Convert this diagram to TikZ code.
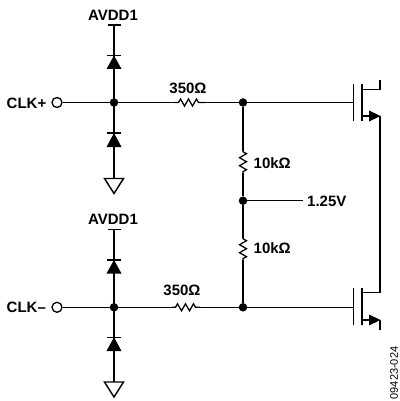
\documentclass[tikz,border=0pt]{standalone}
\usepackage{fontspec}
\setmainfont{Liberation Sans}
\newcommand{\drawdiode}[3]{% name, bar y, base y
  \coordinate (#1bar) at (114,#2);
  \coordinate (#1base) at (114,#3);
  \draw[wire] (107,#2) -- (121,#2);
  \fill (106.5,#3) -- (121.5,#3) -- (114,#2) -- cycle;
}
\newcommand{\drawground}[2]{% name, top y
  \coordinate (#1) at (114,#2);
  \draw[wire,line join=miter] (104.5,#2) -- (123.5,#2) -- (114,#2+15) -- cycle;
}
\newcommand{\hres}[3]{% from x, to x, y
  \draw[reswire] (#1,#3)
    -- ++(3.5,0) -- ++(2,-3.5) -- ++(4,7) -- ++(4,-7) -- ++(4,7) -- ++(4,-7) -- ++(2,3.5) -- (#2,#3);
}
\newcommand{\vres}[3]{% x, from y, to y
  \draw[reswire] (#1,#2)
    -- ++(0,1) -- ++(3.5,2) -- ++(-7,4) -- ++(7,4) -- ++(-7,4) -- ++(7,4) -- ++(-3.5,2) -- (#1,#3);
}
\newcommand{\drawfet}[2]{% gate y, name
  \draw[wire] (353.5,#1-18.5) -- (353.5,#1+18.5);
  \draw[wire] (362,#1-18.5) -- (362,#1+18.5);
}
\tikzset{
  x=1pt,y=-1pt,
  wire/.style={line width=1.45pt,line cap=butt},
  reswire/.style={line width=1.25pt,line cap=butt,line join=miter},
  dot/.style={circle,fill=black,inner sep=0pt,minimum size=8.5pt},
  term/.style={circle,draw=black,fill=white,line width=1.3pt,inner sep=0pt,minimum size=10pt},
  lab/.style={font=\fontsize{15}{16}\selectfont\bfseries,inner sep=0pt,text=black},
}
\begin{document}
\begin{tikzpicture}
\useasboundingbox (0,0) rectangle (399,401);
% top input
\coordinate (vddA) at (114,25);
\coordinate (gndA) at (114,178.5);
\node[dot] (jA) at (114,102.5) {};
\node[term] (clkp) at (57,102.5) {};
\node[dot] (jB) at (243,102.5) {};
\node[dot] (mid) at (243,200.7) {};
\coordinate (gateA) at (353.5,102.5);
% bottom input
\coordinate (vddB) at (114,229.3);
\coordinate (gndB) at (114,382);
\node[dot] (jC) at (114,307.3) {};
\node[term] (clkm) at (57,307.3) {};
\node[dot] (jD) at (243,307.3) {};
\coordinate (gateB) at (353.5,307.3);
% wires
\draw[wire] (108,25) -- (120.5,25);
\draw[wire] (108,229.3) -- (120.5,229.3);
\draw[wire] (vddA) -- (gndA);
\draw[wire] (vddB) -- (gndB);
\draw[wire] (clkp) -- (jA);
\draw[wire] (clkm) -- (jC);
\draw[wire] (jA) -- (175,102.5);
\hres{175}{205}{102.5}
\draw[wire] (205,102.5) -- (jB);
\draw[wire] (jC) -- (172,307.3);
\hres{172}{200}{307.3}
\draw[wire] (200,307.3) -- (jD);
\draw[wire] (jB) -- (gateA);
\draw[wire] (jD) -- (gateB);
\draw[wire] (jB) -- (243,150.7);
\vres{243}{150.7}{173}
\draw[wire] (243,173) -- (mid);
\draw[wire] (mid) -- (243,237.7);
\vres{243}{237.7}{260}
\draw[wire] (243,260) -- (jD);
\coordinate (vcm) at (303,200.7);
\draw[wire] (mid) -- (vcm);
% diodes and grounds
\drawdiode{dA}{55.5}{69}
\drawdiode{dB}{133}{147}
\drawdiode{dC}{260}{273.5}
\drawdiode{dD}{337.3}{351}
\drawground{gA}{178.5}
\drawground{gB}{382}
% transistors
\drawfet{102.5}{qA}
\drawfet{306.5}{qB}
\draw[wire] (362,89.5) -- (380,89.5) -- (380,80);
\draw[wire] (362,116) -- (370,116);
\fill (369,110.5) -- (380.5,116) -- (369,121.5) -- cycle;
\draw[wire] (380,115.5) -- (380,292.7) -- (362,292.7);
\draw[wire] (362,320) -- (370,320);
\fill (369,314.5) -- (380.5,320) -- (369,325.5) -- cycle;
\draw[wire] (380,319.5) -- (380,329.5);
% labels
\node[lab] (t1) at (113,15) {AVDD1};
\node[lab] (t2) at (113,219) {AVDD1};
\node[lab,anchor=west] (t3) at (6.5,103.5) {CLK+};
\node[lab,anchor=west] (t4) at (6.5,307.5) {CLK–};
\node[lab] (t5) at (188,88.5) {350Ω};
\node[lab] (t6) at (182,290) {350Ω};
\node[lab,anchor=west] (t7) at (253.5,163.5) {10kΩ};
\node[lab,anchor=west] (t8) at (253.5,248.5) {10kΩ};
\node[lab,anchor=west] (t9) at (307,201) {1.25V};
\node[rotate=90,inner sep=0pt,font=\fontsize{11}{12}\selectfont] (t10) at (394,373) {09423-024};
\end{tikzpicture}
\end{document}
